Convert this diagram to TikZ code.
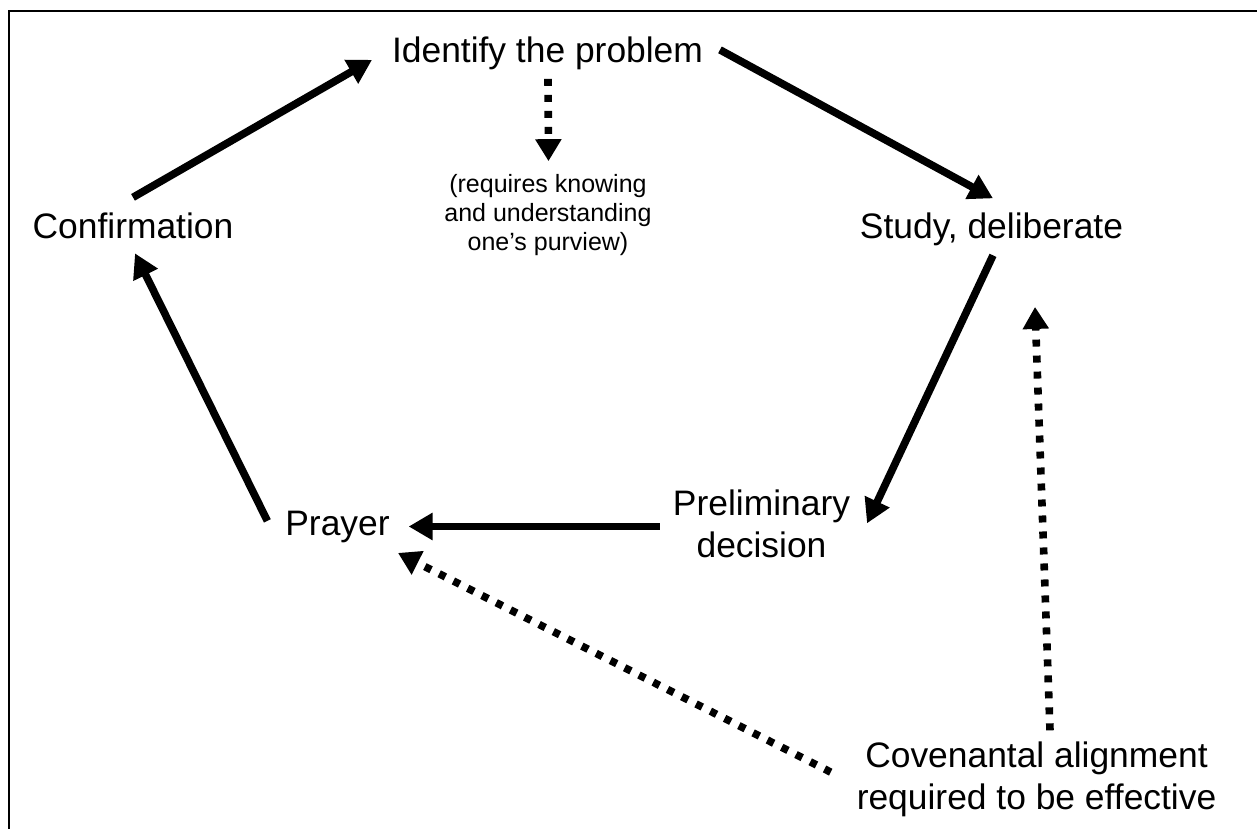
\documentclass[tikz,border=0pt]{standalone}
\usepackage{fontspec}
\setmainfont{Liberation Sans}
\usetikzlibrary{arrows.meta}
\tikzset{
  big/.style={font=\fontsize{17.7}{21}\selectfont, inner sep=0pt, outer sep=0pt},
  small/.style={font=\fontsize{12.5}{14.5}\selectfont, inner sep=0pt, outer sep=0pt},
  solidarr/.style={line width=3.8pt, -{Triangle[length=12pt,width=13pt]}},
  dotarr/.style={line width=3.8pt, dash pattern=on 3.5pt off 4.5pt, -{Triangle[length=11pt,width=12.5pt]}},
  frame/.style={line width=1pt}
}
\begin{document}
\begin{tikzpicture}[x={(0.5pt,0)}, y={(0,-0.5pt)}]
\useasboundingbox (0,0) rectangle (1257,829);
\draw[frame] (9,829) -- (9,11) -- (1257,11);

\node[big, anchor=base] (ident) at (547.5,63) {Identify the problem};
\node[big, anchor=base] (conf) at (133,238) {Confirmation};
\node[big, anchor=base] (study) at (991.5,238) {Study, deliberate};
\node[big, anchor=base] (prayer) at (337.5,535) {Prayer};
\node[big, anchor=base, align=center] (prelim) at (761.5,557) {Preliminary\\decision};
\node[small, anchor=base, align=center] (reqs) at (548,250) {(requires knowing\\and understanding\\one’s purview)};
\node[big, anchor=base, align=center] (cov) at (1036.5,809) {Covenantal alignment\\required to be effective};

\draw[solidarr] ([shift={(0,-15)}]conf.north) -- ([shift={(-20,6)}]ident.west);
\draw[solidarr] ([shift={(17,-4)}]ident.east) -- ([shift={(1.5,-14)}]study.north);
\draw[solidarr] ([shift={(1.5,10)}]study.south) -- ([shift={(17,0)}]prelim.east);
\draw[solidarr, shorten <=6.5pt, shorten >=9.5pt] (prayer.east -| prelim.west) -- (prayer.east);
\draw[solidarr] ([shift={(-18,-5.6)}]prayer.west) -- ([shift={(2,15)}]conf.south);

\draw[dotarr] ([shift={(0.5,8.5)}]ident.south) -- ([shift={(0.5,-12.7)}]reqs.north);
\draw[dotarr] ([shift={(13.5,-11)}]cov.north) -- ([shift={(43.5,61.6)}]study.south);
\draw[dotarr] ([shift={(-26,-6.7)}]cov.west) -- ([shift={(60.5,10.6)}]prayer.south);
\end{tikzpicture}
\end{document}
